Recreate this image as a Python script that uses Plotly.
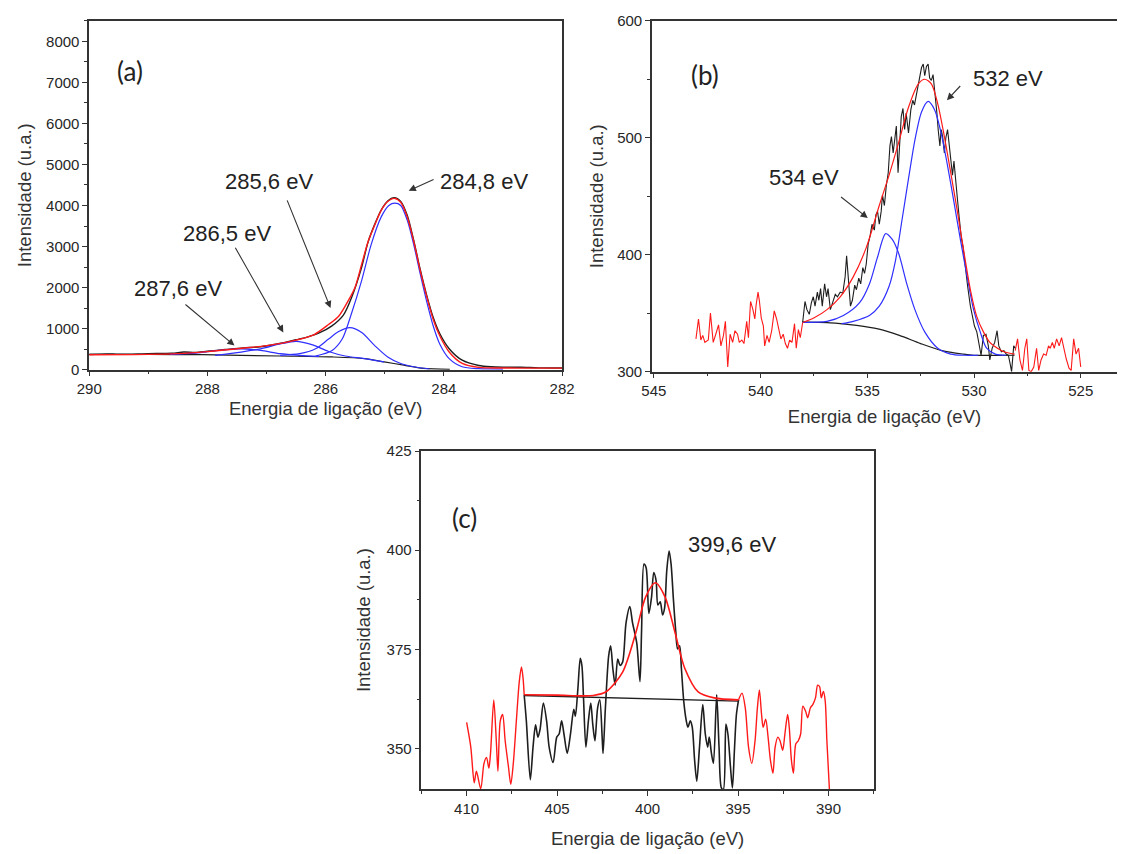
import plotly.graph_objects as go

# ---------------- Panel (a): C 1s ----------------
a_data_E = [290.0, 289.7, 289.5, 289.0, 288.6, 288.4, 288.2, 288.0, 287.7, 287.4, 287.1, 286.8, 286.5, 286.3,
            286.1, 285.9, 285.7, 285.55, 285.4, 285.28, 285.17, 285.06, 284.95, 284.84, 284.73, 284.62, 284.51,
            284.4, 284.29, 284.18, 284.07, 283.91, 283.69, 283.41, 283.2, 283.0, 282.7, 282.4, 282.0]
a_data_I = [370, 385, 375, 390, 400, 430, 420, 450, 490, 530, 560, 630, 730, 800,
            900, 1060, 1330, 1800, 2450, 3120, 3540, 3890, 4110, 4190, 4100, 3760, 3150,
            2440, 1810, 1270, 880, 510, 230, 103, 70, 60, 58, 45, 40]

a_env_E = [290.0, 289.0, 288.5, 288.0, 287.5, 287.0, 286.5, 286.2, 285.95, 285.78, 285.61, 285.5, 285.39, 285.28,
           285.17, 285.06, 284.95, 284.84, 284.73, 284.62, 284.51, 284.4, 284.29, 284.18, 284.07, 283.91,
           283.69, 283.41, 283.0, 282.5, 282.0]
a_env_I = [365, 372, 390, 440, 510, 585, 720, 850, 1100, 1300, 1700, 2016, 2570, 3127,
           3524, 3881, 4095, 4174, 4079, 3722, 3127, 2413, 1778, 1222, 825, 429,
           151, 55, 40, 38, 38]

a_p1_E = [286.17, 285.89, 285.72, 285.56, 285.39, 285.23, 285.06, 284.93, 284.83, 284.73, 284.62, 284.51,
          284.4, 284.29, 284.18, 284.07, 283.91, 283.69, 283.41, 283.0]
a_p1_I = [333, 468, 746, 1381, 2175, 3048, 3722, 4000, 4055, 4000, 3643, 3048,
          2333, 1659, 1064, 627, 270, 71, 24, 15]

a_p2_E = [286.77, 286.44, 286.17, 285.95, 285.78, 285.59, 285.39, 285.17, 284.95, 284.73, 284.51, 284.24]
a_p2_I = [349, 389, 508, 746, 929, 1024, 905, 587, 310, 151, 71, 16]

a_p3_E = [287.87, 287.43, 287.1, 286.77, 286.5, 286.22, 285.95, 285.67, 285.34, 285.01]
a_p3_I = [349, 429, 508, 627, 690, 603, 444, 333, 270, 190]

a_p4_E = [288.64, 288.2, 287.82, 287.43, 287.1, 286.77, 286.44, 286.11]
a_p4_I = [373, 405, 468, 508, 468, 389, 349, 325]

a_base_E = [290.0, 289.0, 288.09, 286.77, 285.89, 285.34, 285.01, 284.68, 284.35, 283.9]
a_base_I = [373, 370, 365, 333, 310, 270, 190, 111, 32, 8]

# ---------------- Panel (b): O 1s ----------------
b_left_E = [543.03, 542.91, 542.80, 542.71, 542.61, 542.45, 542.35, 542.22, 542.10, 541.97, 541.86, 541.74,
            541.65, 541.54, 541.43, 541.31, 541.20, 541.08, 541.00, 540.88, 540.78, 540.65, 540.57, 540.47,
            540.36, 540.27, 540.21, 540.12, 540.06, 539.97, 539.87, 539.81, 539.70, 539.60, 539.48, 539.36,
            539.25, 539.14, 539.05, 538.94, 538.84, 538.74, 538.64, 538.53, 538.41, 538.33, 538.23, 538.14, 538.03]
b_left_I = [328, 345, 327, 331, 325, 327, 350, 325, 332, 340, 322, 331,
            343, 304, 332, 325, 335, 332, 325, 327, 324, 343, 329, 360,
            353, 345, 357, 368, 361, 346, 339, 322, 331, 325, 335, 352,
            345, 334, 328, 332, 324, 320, 327, 325, 341, 320, 336, 329, 342]

b_data_E = [538.03, 537.92, 537.83, 537.72, 537.62, 537.53, 537.45, 537.34, 537.27, 537.19, 537.11, 537.00,
            536.91, 536.84, 536.73, 536.61, 536.50, 536.40, 536.27, 536.15, 536.04, 535.97, 535.89, 535.79,
            535.70, 535.59, 535.51, 535.40, 535.31, 535.21, 535.13, 535.05, 534.96, 534.87, 534.78, 534.67,
            534.60, 534.52, 534.44, 534.35, 534.29, 534.20, 534.11, 534.02, 533.94, 533.87, 533.79, 533.71,
            533.64, 533.56, 533.48, 533.41, 533.33, 533.25, 533.18, 533.07, 532.96, 532.87, 532.79, 532.69,
            532.61, 532.54, 532.46, 532.38, 532.31, 532.23, 532.15, 532.08, 532.00, 531.92, 531.82, 531.74,
            531.68, 531.60, 531.54, 531.47, 531.39, 531.32, 531.24, 531.09, 531.01, 530.94, 530.88, 530.78,
            530.69, 530.60, 530.51, 530.40, 530.30, 530.17, 530.07, 529.98, 529.87, 529.79, 529.67, 529.56,
            529.44, 529.33, 529.26, 529.15, 529.03, 528.92, 528.84, 528.72, 528.60, 528.49, 528.39, 528.30,
            528.24, 528.14, 528.07]
b_data_I = [342, 360, 353, 349, 359, 364, 356, 368, 361, 371, 356, 375,
            364, 371, 353, 361, 366, 364, 368, 367, 381, 399, 381, 356,
            361, 374, 370, 380, 375, 389, 384, 392, 409, 416, 426, 421,
            434, 437, 426, 437, 451, 442, 459, 470, 493, 501, 487, 498,
            510, 470, 493, 518, 525, 507, 521, 504, 524, 532, 528, 537,
            546, 553, 560, 563, 553, 561, 563, 551, 549, 554, 537, 521,
            507, 493, 507, 501, 487, 500, 507, 479, 468, 480, 465, 448,
            431, 415, 406, 387, 373, 356, 348, 339, 334, 327, 314, 331,
            332, 322, 310, 320, 325, 335, 322, 317, 318, 315, 314, 306,
            300, 322, 320]

b_right_E = [528.07, 527.96, 527.85, 527.73, 527.62, 527.53, 527.43, 527.32, 527.20, 527.07, 526.97, 526.86,
             526.74, 526.62, 526.51, 526.43, 526.33, 526.24, 526.13, 526.01, 525.90, 525.80, 525.68, 525.55,
             525.45, 525.33, 525.22, 525.10, 525.00]
b_right_I = [318, 328, 310, 301, 320, 328, 301, 300, 304, 320, 301, 310,
             315, 314, 322, 320, 325, 320, 328, 322, 329, 320, 311, 303,
             301, 328, 315, 320, 304]

b_env_E = [538.03, 537.49, 536.89, 536.27, 535.66, 535.05, 534.44, 533.98, 533.53, 533.07, 532.61, 532.31,
           532.0, 531.7, 531.39, 531.09, 530.78, 530.48, 530.17, 529.87, 529.56, 529.26, 528.9, 528.6, 528.1]
b_env_I = [342, 346, 353, 364, 381, 406, 442, 468, 496, 526, 546, 550,
           546, 529, 501, 470, 437, 403, 370, 347, 334, 325, 320, 317, 315]

b_p1_E = [538.03, 536.89, 536.12, 535.36, 534.9, 534.52, 534.14, 533.83, 533.53, 533.15, 532.77, 532.31,
          531.7, 531.09, 530.48, 529.8]
b_p1_I = [342, 343, 348, 359, 375, 398, 418, 413, 401, 375, 353, 334,
          320, 315, 314, 314]

b_p2_E = [536.2, 535.66, 534.9, 534.44, 533.98, 533.68, 533.38, 533.07, 532.77, 532.46, 532.15, 531.85,
          531.54, 531.24, 530.94, 530.63, 530.32, 530.02, 529.71, 529.41, 529.0, 528.5]
b_p2_I = [341, 343, 348, 356, 373, 395, 429, 465, 498, 522, 531, 524,
          504, 476, 445, 412, 381, 353, 334, 320, 315, 314]

b_base_E = [538.03, 536.5, 535.5, 534.5, 533.5, 532.5, 531.5, 530.5, 530.0, 528.1]
b_base_I = [342.5, 341.5, 339.5, 336.5, 331, 324, 318, 315, 314, 314]

# ---------------- Panel (c): N 1s ----------------
c_left_E = [410.0, 409.77, 409.58, 409.46, 409.22, 409.04, 408.9, 408.77, 408.68, 408.5, 408.36, 408.27,
            408.14, 408.01, 407.87, 407.69, 407.56, 407.42, 407.24, 407.09, 406.97, 406.88, 406.82]
c_left_I = [356.6, 350.4, 341.4, 344.3, 339.9, 346.3, 347.8, 345.1, 348.8, 362.3, 352, 344.3,
            357, 358.6, 352, 345.5, 341, 346.3, 357.8, 366.9, 370.6, 367.7, 363.6]

c_data_E = [406.82, 406.70, 406.48, 406.33, 406.19, 406.06, 405.94, 405.76, 405.58, 405.44, 405.22, 405.02,
            404.89, 404.75, 404.62, 404.44, 404.26, 404.08, 403.99, 403.85, 403.72, 403.63, 403.54, 403.41,
            403.27, 403.14, 403.03, 402.91, 402.76, 402.64, 402.51, 402.46, 402.33, 402.15, 402.04, 401.92,
            401.79, 401.65, 401.52, 401.38, 401.19, 400.98, 400.83, 400.60, 400.42, 400.33, 400.2, 400.08,
            399.93, 399.78, 399.66, 399.53, 399.43, 399.30, 399.17, 399.06, 398.94, 398.81, 398.70, 398.58,
            398.45, 398.34, 398.23, 398.13, 398.00, 397.86, 397.77, 397.64, 397.53, 397.40, 397.28, 397.13,
            396.95, 396.81, 396.68, 396.59, 396.47, 396.36, 396.18, 396.05, 395.92, 395.81, 395.67, 395.56,
            395.42, 395.31, 395.20, 395.09, 394.97]
c_data_I = [363.6, 357, 342.2, 350.4, 356, 352.9, 354.9, 361.5, 357, 350.4, 346.5, 352.9,
            353.7, 357, 353.7, 348.8, 353.7, 359.9, 358.2, 365.2, 372.8, 371, 362.8, 350.4,
            357, 361.5, 356.2, 352, 360.3, 362.3, 352.9, 348.8, 360.3, 373.4, 375.9, 370.2,
            366, 372.6, 371, 371.8, 381.7, 385.8, 381.7, 376.7, 366.9, 380, 396.5, 395.6,
            384.1, 388.2, 394.4, 392.4, 386.2, 387, 383.7, 385.4, 394.8, 399.8, 396.5, 388.2,
            380, 375.1, 375.9, 370.2, 361.9, 357, 355.4, 357, 355.4, 347.1, 341.8, 350.4,
            361.1, 353.7, 350.4, 352.9, 348.8, 346.3, 363.6, 350.4, 340.1, 339.7, 356.2, 353.7,
            345.5, 340.1, 349.6, 358.6, 362.3]

c_right_E = [394.97, 394.78, 394.6, 394.42, 394.24, 394.06, 393.93, 393.82, 393.7, 393.61, 393.47, 393.34,
             393.21, 393.07, 392.95, 392.8, 392.68, 392.53, 392.41, 392.26, 392.17, 392.05, 391.94, 391.81,
             391.67, 391.54, 391.42, 391.27, 391.15, 391.0, 390.87, 390.72, 390.6, 390.49, 390.4, 390.28,
             390.18, 390.09, 389.95]
c_right_I = [362.3, 364, 360.3, 350.4, 346.3, 352, 360.3, 364.8, 358.6, 355.4, 357.4, 352.9,
             347.1, 343.8, 350.4, 352.9, 352, 349.6, 353.7, 358.6, 355.4, 347.1, 343.8, 351.2,
             352, 353.7, 360.7, 359.5, 357.8, 360.3, 361.1, 362.8, 366, 365.6, 362.8, 364.4,
             361.9, 352, 339.7]

c_env_E = [406.82, 405.0, 403.0, 402.27, 401.38, 400.65, 400.11, 399.57, 399.03, 398.48, 397.94, 397.22,
           396.32, 394.97]
c_env_I = [363.6, 363.5, 363.4, 364.4, 369.3, 379.2, 388.2, 391.8, 388.2, 379.2, 370.2, 364.4,
           362.8, 362.3]

c_base_E = [406.82, 394.97]
c_base_I = [363.4, 362.0]

# ---------------- Figure ----------------
W, H = 1131, 854
BLACK = "#1e1e1e"
RED = "#ff1a1a"
BLUE = "#2f2fff"

fig = go.Figure()


def add(x, y, color, xa, ya, width=1.3, shape="linear"):
    fig.add_trace(go.Scatter(x=x, y=y, mode="lines", xaxis=xa, yaxis=ya,
                             line=dict(color=color, width=width, shape=shape, smoothing=0.8),
                             showlegend=False, hoverinfo="skip"))


# (a)
add(a_data_E, a_data_I, BLACK, "x", "y", 1.4, "spline")
add(a_base_E, a_base_I, BLACK, "x", "y", 1.2, "spline")
for E, I in [(a_p1_E, a_p1_I), (a_p2_E, a_p2_I), (a_p3_E, a_p3_I), (a_p4_E, a_p4_I)]:
    add(E, I, BLUE, "x", "y", 1.2, "spline")
add(a_env_E, a_env_I, RED, "x", "y", 1.4, "spline")

# (b)
add(b_left_E, b_left_I, RED, "x2", "y2", 1.1)
add(b_right_E, b_right_I, RED, "x2", "y2", 1.1)
add(b_data_E, b_data_I, BLACK, "x2", "y2", 1.1)
add(b_base_E, b_base_I, BLACK, "x2", "y2", 1.2, "spline")
add(b_p1_E, b_p1_I, BLUE, "x2", "y2", 1.2, "spline")
add(b_p2_E, b_p2_I, BLUE, "x2", "y2", 1.2, "spline")
add(b_env_E, b_env_I, RED, "x2", "y2", 1.2, "spline")

# (c)
add(c_left_E, c_left_I, RED, "x3", "y3", 1.4, "spline")
add(c_right_E, c_right_I, RED, "x3", "y3", 1.4, "spline")
add(c_data_E, c_data_I, BLACK, "x3", "y3", 1.6, "spline")
add(c_base_E, c_base_I, BLACK, "x3", "y3", 1.3)
add(c_env_E, c_env_I, RED, "x3", "y3", 1.6, "spline")

TICKFONT = dict(family="Arial, Liberation Sans, sans-serif", size=15, color="#262626")
TITLEFONT = dict(family="Arial, Liberation Sans, sans-serif", size=18.5, color="#333")


def xax(domain, rng, dtick, minor, title, anchor, standoff=8):
    return dict(domain=domain, range=rng, anchor=anchor, dtick=dtick, tick0=0,
                showline=True, linecolor="#333", linewidth=1.5, mirror=True,
                ticks="outside", ticklen=5, tickwidth=1.2, tickcolor="#333",
                minor=dict(dtick=minor, ticks="outside", ticklen=3, tickwidth=1, tickcolor="#333"),
                showgrid=False, zeroline=False, tickfont=TICKFONT,
                title=dict(text=title, font=TITLEFONT, standoff=standoff))


def yax(domain, rng, dtick, tick0, minor, title, anchor, mirror=True, standoff=8):
    return dict(domain=domain, range=rng, anchor=anchor, dtick=dtick, tick0=tick0,
                showline=True, linecolor="#333", linewidth=1.5, mirror=mirror,
                ticks="outside", ticklen=5, tickwidth=1.2, tickcolor="#333",
                minor=dict(dtick=minor, ticks="outside", ticklen=3, tickwidth=1, tickcolor="#333"),
                showgrid=False, zeroline=False, tickfont=TICKFONT,
                title=dict(text=title, font=TITLEFONT, standoff=standoff))


XT = "Energia de ligação (eV)"
YT = "Intensidade (u.a.)"

fig.update_layout(
    width=W, height=H, margin=dict(l=0, r=0, t=0, b=0),
    paper_bgcolor="white", plot_bgcolor="white",
    xaxis=xax([78 / W, 562 / W], [290, 282], 2, 1, XT, "y", 6),
    yaxis=yax([1 - 368 / H, 1 - 12 / H], [0, 8500], 1000, 0, 500, YT, "x", standoff=10),
    xaxis2=xax([654 / W, 1130 / W], [545.09, 523.3], 5, 2.5, XT, "y2", 12),
    yaxis2=yax([1 - 370 / H, 1 - 12 / H], [300, 600], 100, 0, 50, YT, "x2", mirror=False, standoff=9),
    xaxis3=xax([418 / W, 881 / W], [412.5, 387.5], 5, 2.5, XT, "y3", 16),
    yaxis3=yax([1 - 796 / H, 1 - 451 / H], [339.8, 425], 25, 0, 12.5, YT, "x3", standoff=11),
)

LBL = dict(family="Lato, Open Sans, sans-serif", size=26, color="#222")
ANN = dict(family="Arial, Liberation Sans, sans-serif", size=22, color="#222")

texts = [
    ("x", "y", 289.31, 7286, "(a)", LBL),
    ("x2", "y2", 542.62, 553.9, "(b)", LBL),
    ("x3", "y3", 410.12, 408.0, "(c)", LBL),
    ("x", "y", 283.32, 4595, "284,8 eV", ANN),
    ("x", "y", 286.96, 4595, "285,6 eV", ANN),
    ("x", "y", 287.67, 3310, "286,5 eV", ANN),
    ("x", "y", 288.496, 1976, "287,6 eV", ANN),
    ("x2", "y2", 528.39, 550.6, "532 eV", ANN),
    ("x2", "y2", 537.95, 465.9, "534 eV", ANN),
    ("x3", "y3", 395.33, 401.4, "399,6 eV", ANN),
]
for xr, yr, x, y, t, f in texts:
    fig.add_annotation(xref=xr, yref=yr, x=x, y=y, text=t, font=f, showarrow=False,
                       xanchor="center", yanchor="middle")

arrows = [
    ("x", "y", 284.595, 4357, 284.149, 4650),
    ("x", "y", 285.917, 1500, 286.661, 4160),
    ("x", "y", 286.716, 905, 287.542, 3007),
    ("x", "y", 287.542, 588, 288.397, 1619),
    ("x2", "y2", 531.27, 532.1, 530.58, 545.5),
    ("x2", "y2", 534.98, 431.3, 536.30, 450.3),
]
for xr, yr, hx, hy, tx, ty in arrows:
    fig.add_annotation(xref=xr, yref=yr, axref=xr, ayref=yr, x=hx, y=hy, ax=tx, ay=ty,
                       text="", showarrow=True, arrowhead=2, arrowsize=1.3, arrowwidth=1.1,
                       arrowcolor="#333")

fig.write_html("out.html")
